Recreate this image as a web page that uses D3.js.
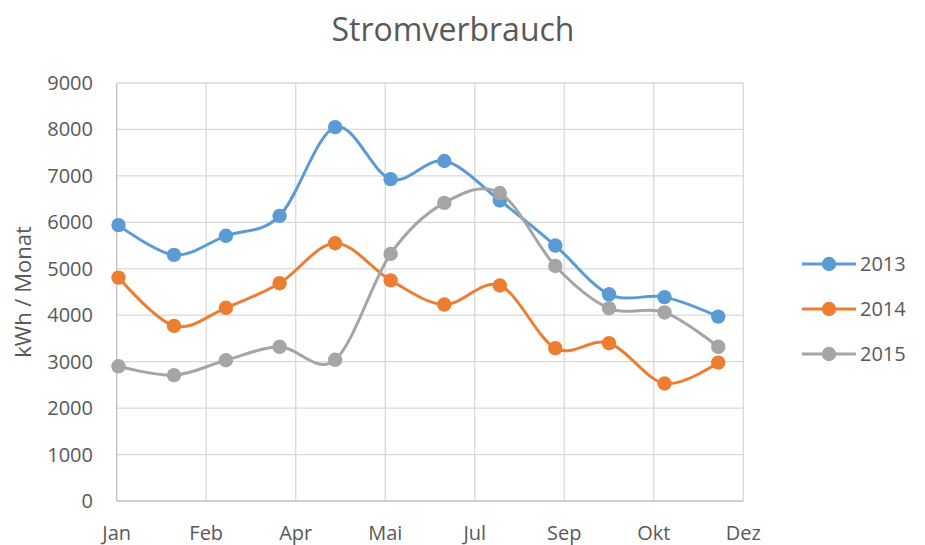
<!DOCTYPE html>
<html>
<head>
<meta charset="utf-8">
<script src="https://cdn.jsdelivr.net/npm/d3@7"></script>
<style>
  body { margin: 0; background: #fff; }
  text { font-family: "Open Sans", "Liberation Sans", sans-serif; fill: #595959; }
</style>
</head>
<body>
<svg id="chart" width="925" height="545"></svg>
<script>
// data (reading dates, one per month)
const months = ["2013-01-02", "2013-02-02", "2013-03-03", "2013-04-02", "2013-05-03", "2013-06-03",
    "2013-07-03", "2013-08-03", "2013-09-03", "2013-10-03", "2013-11-03", "2013-12-03"]
const seriesNames = ["2013", "2014", "2015"]
const v2013 = [5940, 5300, 5710, 6140, 8050, 6930, 7320, 6470, 5500, 4450, 4390, 3970]
const v2014 = [4810, 3770, 4160, 4690, 5550, 4750, 4230, 4640, 3290, 3400, 2530, 2980]
const v2015 = [2900, 2710, 3030, 3320, 3040, 5320, 6420, 6630, 5060, 4150, 4060, 3320]
const yTicks = [0, 1000, 2000, 3000, 4000, 5000, 6000, 7000, 8000, 9000]
const monthNames = ["Jan", "Feb", "Mär", "Apr", "Mai", "Jun", "Jul", "Aug", "Sep", "Okt", "Nov", "Dez"]

const colors = ["#5B9BD5", "#ED7D31", "#A5A5A5"]
const allValues = [v2013, v2014, v2015]

let svg = d3.select("#chart")

let plotLeft = 116.7, plotRight = 743.3, plotTop = 83, plotBottom = 501

const parse = d3.timeParse("%Y-%m-%d")
let dates = months.map(parse)

// date axis, major unit 50 days (like Excel)
let start = parse("2013-01-01")
let end = d3.timeDay.offset(start, 350)
let x = d3.scaleTime().domain([start, end]).range([plotLeft, plotRight])
let y = d3.scaleLinear().domain([0, 9000]).range([plotBottom, plotTop])

let xTicks = d3.range(0, 351, 50).map(d => d3.timeDay.offset(start, d))

// gridlines
svg.append("g")
    .selectAll("line")
    .data(yTicks.slice(1))
    .join("line")
    .attr("x1", plotLeft).attr("x2", plotRight)
    .attr("y1", d => y(d)).attr("y2", d => y(d))
    .style("stroke", "#D9D9D9")
    .style("stroke-width", 1.3)

svg.append("g")
    .selectAll("line")
    .data(xTicks.slice(1))
    .join("line")
    .attr("x1", d => x(d)).attr("x2", d => x(d))
    .attr("y1", plotTop).attr("y2", plotBottom)
    .style("stroke", "#D9D9D9")
    .style("stroke-width", 1.3)

// axis lines
svg.append("line")
    .attr("x1", plotLeft).attr("x2", plotLeft).attr("y1", plotTop).attr("y2", plotBottom)
    .style("stroke", "#BFBFBF").style("stroke-width", 1.3)
svg.append("line")
    .attr("x1", plotLeft).attr("x2", plotRight).attr("y1", plotBottom).attr("y2", plotBottom)
    .style("stroke", "#BFBFBF").style("stroke-width", 1.3)

// tick labels
svg.append("g")
    .selectAll("text")
    .data(yTicks)
    .join("text")
    .attr("x", 93)
    .attr("y", d => y(d) + 7)
    .attr("text-anchor", "end")
    .style("font-size", "20px")
    .text(d => d)

svg.append("g")
    .selectAll("text")
    .data(xTicks)
    .join("text")
    .attr("x", d => x(d))
    .attr("y", 540)
    .attr("text-anchor", "middle")
    .style("font-size", "20px")
    .text(d => monthNames[d.getMonth()])

// title + axis title
svg.append("text")
    .attr("x", 453).attr("y", 41)
    .attr("text-anchor", "middle")
    .style("font-size", "32px")
    .text("Stromverbrauch")

svg.append("text")
    .attr("transform", "translate(31," + (plotTop + plotBottom) / 2 + ") rotate(-90)")
    .attr("text-anchor", "middle")
    .style("font-size", "22px")
    .text("kWh / Monat")

// lines
let line = d3.line()
    .x((d, i) => x(dates[i]))
    .y(d => y(d))
    .curve(d3.curveCardinal.tension(0))

allValues.forEach(function (vals, k) {
    let g = svg.append("g")
    g.append("path")
        .attr("d", line(vals))
        .style("fill", "none")
        .style("stroke", colors[k])
        .style("stroke-width", 3)
    g.selectAll("circle")
        .data(vals)
        .join("circle")
        .attr("cx", (d, i) => x(dates[i]))
        .attr("cy", d => y(d))
        .attr("r", 7.2)
        .style("fill", colors[k])
})

// legend
let legend = svg.append("g")
let entry = legend.selectAll("g")
    .data(seriesNames)
    .join("g")
    .attr("transform", (d, i) => "translate(0," + (264 + i * 45) + ")")

entry.append("line")
    .attr("x1", 802).attr("x2", 856)
    .style("stroke", (d, i) => colors[i])
    .style("stroke-width", 3)
entry.append("circle")
    .attr("cx", 829).attr("r", 7.2)
    .style("fill", (d, i) => colors[i])
entry.append("text")
    .attr("x", 860).attr("y", 7)
    .style("font-size", "20px")
    .text(d => d)
</script>
</body>
</html>
